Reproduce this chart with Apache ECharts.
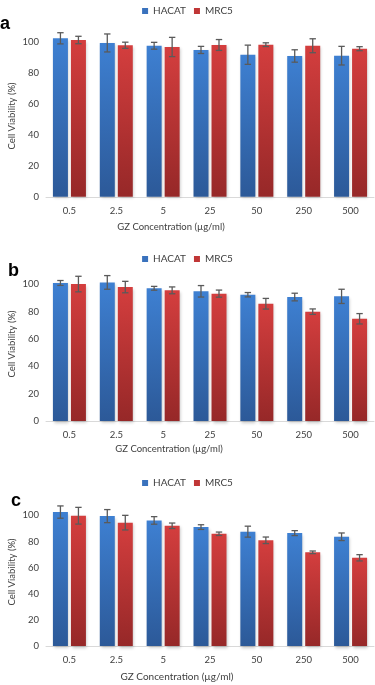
<!DOCTYPE html>
<html><head><meta charset="utf-8">
<script src="https://cdn.jsdelivr.net/npm/echarts@6/dist/echarts.min.js"></script>
<style>html,body{margin:0;padding:0;background:#fff}#c{width:375px;height:685px}</style>
</head><body><div id="c"></div>
<script>
var categories = ['0.5','2.5','5','25','50','250','500'];
var yTicks = [0,20,40,60,80,100];
var hacatA = [102.2, 99.2, 97.4, 94.7, 91.6, 90.8, 91.0];
var hacatAErr = [3.6, 5.8, 2.2, 2.3, 6.2, 4.0, 6.0];
var mrc5A = [101.1, 97.7, 96.6, 97.9, 98.1, 97.4, 95.5];
var mrc5AErr = [2.4, 2.0, 6.2, 3.5, 1.2, 4.5, 1.3];
var hacatB = [101.0, 101.4, 97.1, 94.9, 92.4, 90.7, 91.2];
var hacatBErr = [1.8, 5.0, 1.4, 4.2, 1.6, 2.8, 5.2];
var mrc5B = [100.2, 98.0, 95.6, 93.2, 85.8, 80.0, 74.8];
var mrc5BErr = [5.7, 4.2, 2.5, 2.6, 3.9, 2.0, 3.8];
var hacatC = [102.5, 99.4, 96.1, 91.0, 87.5, 86.4, 83.6];
var hacatCErr = [4.7, 5.0, 2.9, 1.8, 4.2, 1.9, 2.9];
var mrc5C = [99.7, 94.4, 92.0, 85.9, 80.9, 71.7, 67.5];
var mrc5CErr = [6.4, 5.6, 2.1, 1.3, 2.5, 1.0, 2.4];

var FONT = 'Lato';
var chart = echarts.init(document.getElementById('c'), null, {renderer:'canvas'});

var blueGrad = {type:'linear',x:0,y:0,x2:0,y2:1,colorStops:[{offset:0,color:'#3e80d2'},{offset:1,color:'#2c5998'}]};
var redGrad = {type:'linear',x:0,y:0,x2:0,y2:1,colorStops:[{offset:0,color:'#d43e3e'},{offset:1,color:'#962828'}]};

var grids = [
  {left:46, right:1, top:10.7, height:186.1},
  {left:46, right:1, top:257.0, height:164.0},
  {left:46, right:1, top:489.2, height:156.8}
];
var legendTops = [1, 249, 473];
var sets = [[hacatA,hacatAErr,mrc5A,mrc5AErr],[hacatB,hacatBErr,mrc5B,mrc5BErr],[hacatC,hacatCErr,mrc5C,mrc5CErr]];

function errRender(offset){
  return function(params, api){
    var x = api.value(0), v = api.value(1), e = api.value(2);
    var t = api.coord([x, v+e]), b = api.coord([x, v-e]);
    var cx = t[0] + offset, hw = 3.2;
    var st = {stroke:'#5a5a5a', lineWidth:1.3};
    return {type:'group', children:[
      {type:'line', shape:{x1:cx,y1:t[1],x2:cx,y2:b[1]}, style:st},
      {type:'line', shape:{x1:cx-hw,y1:t[1],x2:cx+hw,y2:t[1]}, style:st},
      {type:'line', shape:{x1:cx-hw,y1:b[1],x2:cx+hw,y2:b[1]}, style:st}
    ]};
  };
}

var xAxes=[], yAxes=[], series=[], legends=[];
for (var g=0; g<3; g++){
  xAxes.push({type:'category', gridIndex:g, data:categories,
    axisLine:{lineStyle:{color:'#d9d9d9', width:1}}, axisTick:{show:false},
    axisLabel:{color:'#404040', fontSize:9.5, fontFamily:FONT, margin:9}});
  yAxes.push({type:'value', gridIndex:g, min:0, max:120, interval:20,
    splitLine:{show:false}, axisLine:{show:false}, axisTick:{show:false},
    axisLabel:{color:'#404040', fontSize:9.5, fontFamily:FONT, margin:7,
      formatter:function(v){ return yTicks.indexOf(v)>=0 ? String(v) : ''; }}});
  legends.push({top:legendTops[g], left:'center', itemWidth:6, itemHeight:6, itemGap:8, selectedMode:false,
    icon:'rect', textStyle:{fontSize:10, fontFamily:FONT, color:'#404040'},
    data:[{name:'HACAT', itemStyle:{color:'#3a72bd'}},{name:'MRC5', itemStyle:{color:'#c03636'}}]});
  var s = sets[g];
  var shadow = {shadowBlur:3, shadowColor:'rgba(0,0,0,0.22)', shadowOffsetY:1.5, shadowOffsetX:1};
  series.push({type:'bar', name:'HACAT', xAxisIndex:g, yAxisIndex:g, data:s[0], barWidth:15, barGap:'20%',
    itemStyle:Object.assign({color:blueGrad}, shadow), emphasis:{disabled:true}, animation:false});
  series.push({type:'bar', name:'MRC5', xAxisIndex:g, yAxisIndex:g, data:s[2], barWidth:15, barGap:'20%',
    itemStyle:Object.assign({color:redGrad}, shadow), emphasis:{disabled:true}, animation:false});
  series.push({type:'custom', name:'errH'+g, xAxisIndex:g, yAxisIndex:g, z:5, renderItem:errRender(-9),
    encode:{x:0,y:1}, data:s[0].map(function(v,i){return [i,v,s[1][i]];}), animation:false, silent:true});
  series.push({type:'custom', name:'errM'+g, xAxisIndex:g, yAxisIndex:g, z:5, renderItem:errRender(9),
    encode:{x:0,y:1}, data:s[2].map(function(v,i){return [i,v,s[3][i]];}), animation:false, silent:true});
}

var txt = function(text, x, y, opts){
  return Object.assign({type:'text', x:x, y:y, style:Object.assign({text:text, fill:'#404040', font:'9.5px '+FONT, textAlign:'center', textVerticalAlign:'middle'}, opts||{})});
};
var graphics = [
  {type:'text', left:0, top:15, style:{text:'a', fill:'#000', font:'bold 18px Arial'}},
  {type:'text', left:8, top:262, style:{text:'b', fill:'#000', font:'bold 18px Arial'}},
  {type:'text', left:11, top:492, style:{text:'c', fill:'#000', font:'bold 18px Arial'}},
  txt('GZ Concentration (\u00b5g/ml)', 171, 227),
  txt('GZ Concentration (\u00b5g/ml)', 169, 449),
  txt('GZ Concentration (\u00b5g/ml)', 177, 677, {font:'10px '+FONT}),
  {type:'text', x:12, y:116, rotation:Math.PI/2, style:{text:'Cell Viability (%)', fill:'#404040', font:'9.5px '+FONT, textAlign:'center', textVerticalAlign:'middle'}},
  {type:'text', x:12, y:344, rotation:Math.PI/2, style:{text:'Cell Viability (%)', fill:'#404040', font:'9.5px '+FONT, textAlign:'center', textVerticalAlign:'middle'}},
  {type:'text', x:12, y:572, rotation:Math.PI/2, style:{text:'Cell Viability (%)', fill:'#404040', font:'9.5px '+FONT, textAlign:'center', textVerticalAlign:'middle'}}
];

chart.setOption({
  animation:false,
  grid:grids, xAxis:xAxes, yAxis:yAxes, legend:legends, series:series, graphic:graphics
});
</script></body></html>
